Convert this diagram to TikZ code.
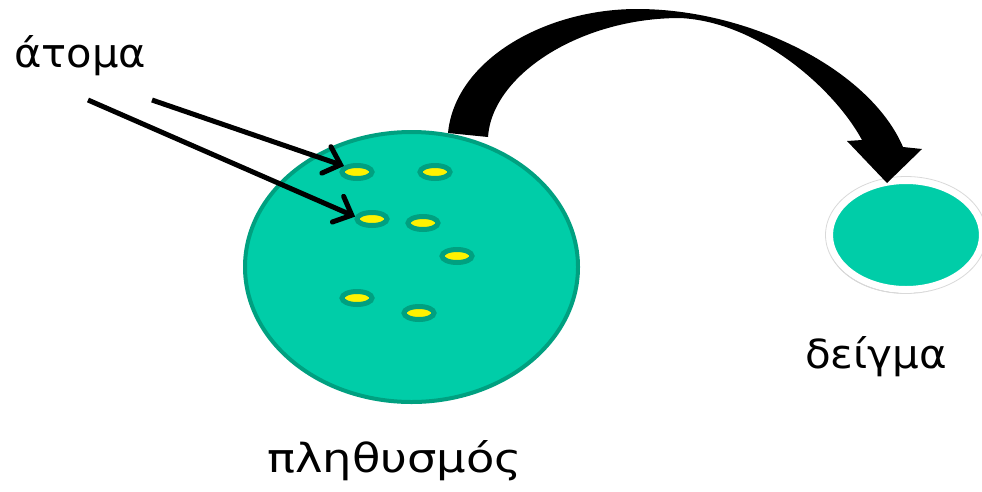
\documentclass[tikz,border=0pt]{standalone}
\usepackage{fontspec}
\setmainfont{DejaVu Sans}
\usetikzlibrary{shapes.geometric,arrows.meta,shadows}
\definecolor{teal0}{RGB}{0,205,168}
\definecolor{tealdark}{RGB}{0,160,128}
\definecolor{dotyellow}{RGB}{255,242,0}
\tikzset{
  lbl/.style={anchor=base west,inner sep=0pt,font=\fontsize{40}{48}\selectfont},
  dotnode/.style={shape=ellipse,minimum width=30pt,minimum height=13pt,inner sep=0pt,
    fill=dotyellow,draw=tealdark,line width=5pt},
  ptr/.style={line width=5pt,-{Straight Barb[length=15pt,width=28pt,line cap=round]}}
}
\begin{document}
\begin{tikzpicture}[x=1pt,y=-1pt]
\useasboundingbox (0,0) rectangle (982,491);
% population
\node[shape=ellipse,minimum width=333pt,minimum height=270pt,inner sep=0pt,
  fill=teal0,draw=tealdark,line width=4pt] (pop) at (411.5,267) {};
% sample
\node[shape=ellipse,minimum width=153pt,minimum height=109pt,inner sep=0pt,
  fill=teal0,draw=white,line width=7pt,
  drop shadow={shadow xshift=-2pt,shadow yshift=-4pt,opacity=0.22,fill=black}] (smp) at (906,235) {};
\draw[black!15,line width=0.8pt] (smp.center) ellipse [x radius=80.5pt,y radius=58.5pt];
% atoms
\node[dotnode] (d1) at (357,172) {};
\node[dotnode] (d2) at (435,172) {};
\node[dotnode] (d3) at (372,219) {};
\node[dotnode] (d4) at (423,223) {};
\node[dotnode] (d5) at (457,256) {};
\node[dotnode] (d6) at (357,298) {};
\node[dotnode] (d7) at (419,313) {};
% labels
\node[lbl] (tatoma) at (14,67) {\scalebox{1.04}[1]{άτομα}};
\node[lbl] (tpop) at (267,472) {\scalebox{1.16}[1]{πληθυσμός}};
\node[lbl] (tsmp) at (805,368) {\scalebox{1.05}[1]{δείγμα}};
% pointers
\coordinate (s1) at (152,100);
\coordinate (s2) at (88,100);
\draw[ptr] (s1) -- (d1.155);
\draw[ptr] (s2) -- (d3.172);
% big curved arrow
\fill[black] (448,133) .. controls (455,60) and (545,9) .. (637,9)
  .. controls (750,9) and (870,70) .. (903,147)
  -- (922,149) -- (887,183) -- (847,141) -- (862,140)
  .. controls (835,90) and (760,22) .. (680,18)
  .. controls (580,18) and (492,75) .. (488,137) -- cycle;
\end{tikzpicture}
\end{document}
